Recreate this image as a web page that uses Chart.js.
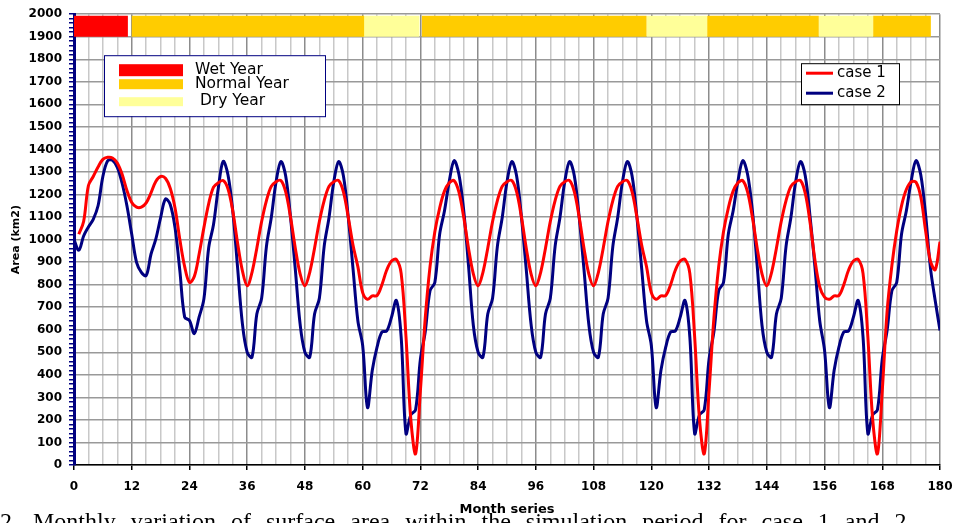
<!DOCTYPE html>
<html>
<head>
<meta charset="utf-8">
<script src="https://cdn.jsdelivr.net/npm/chart.js@4.4.0/dist/chart.umd.min.js"></script>
<style>
  html, body { margin: 0; padding: 0; background: #fff; overflow: hidden; }
  #wrap { position: relative; width: 957px; height: 523px; overflow: hidden; }
  #caption {
    position: absolute; left: 0; top: 509px;
    font-family: "Liberation Serif", "Times New Roman", serif;
    font-size: 24px; line-height: 24px; word-spacing: 9px;
    white-space: nowrap; color: #000;
  }
</style>
</head>
<body>
<div id="wrap">
  <canvas id="myChart" width="957" height="523"></canvas>
  <div id="caption">2. Monthly variation of surface area within the simulation period for case 1 and 2</div>
</div>
<script>
// month index 0..180
const months = Array.from({ length: 181 }, (_, i) => i);

// case 1 (red), km2, one row per year (month 0 has no point)
const case1 = [
  null, 1024, 1080, 1240, 1280, 1322, 1356, 1365, 1362, 1340, 1290, 1218,
  1165, 1144, 1144, 1163, 1207, 1258, 1280, 1272, 1228, 1140, 1000, 880,
  810, 836, 935, 1053, 1160, 1233, 1252, 1262, 1225, 1127, 985, 862,
  795, 855, 962, 1080, 1173, 1236, 1257, 1262, 1212, 1100, 962, 848,
  795, 855, 962, 1080, 1173, 1236, 1257, 1262, 1212, 1100, 975, 880,
  765, 735, 750, 752, 800, 865, 905, 912, 850, 570, 205, 50,
  330, 650, 880, 1035, 1140, 1215, 1252, 1262, 1212, 1100, 962, 848,
  795, 855, 962, 1080, 1173, 1236, 1257, 1262, 1212, 1100, 962, 848,
  795, 855, 962, 1080, 1173, 1236, 1257, 1262, 1212, 1100, 962, 848,
  795, 855, 962, 1080, 1173, 1236, 1257, 1262, 1212, 1100, 975, 880,
  765, 735, 750, 752, 800, 865, 905, 912, 850, 570, 205, 50,
  330, 650, 880, 1035, 1140, 1215, 1252, 1262, 1212, 1100, 962, 848,
  795, 855, 962, 1080, 1173, 1236, 1257, 1262, 1205, 1075, 910, 790,
  745, 735, 750, 752, 800, 865, 905, 912, 850, 570, 205, 50,
  330, 680, 885, 1038, 1150, 1222, 1256, 1255, 1190, 1040, 906, 866,
  990
];

// case 2 (navy)
const case2 = [
  1000, 953, 1016, 1056, 1090, 1150, 1280, 1350, 1352, 1320, 1250, 1150,
  1024, 899, 855, 840, 935, 1002, 1097, 1180, 1156, 1053, 862, 656,
  641, 583, 656, 737, 965, 1067, 1229, 1347, 1288, 1127, 877, 627,
  500, 478, 670, 740, 970, 1097, 1257, 1346, 1282, 1100, 868, 625,
  500, 478, 670, 740, 970, 1097, 1257, 1346, 1282, 1100, 870, 640,
  530, 255, 420, 524, 590, 595, 656, 730, 568, 140, 222, 245,
  470, 590, 773, 810, 1024, 1127, 1259, 1350, 1290, 1130, 885, 620,
  500, 478, 670, 740, 970, 1097, 1257, 1346, 1282, 1100, 868, 625,
  500, 478, 670, 740, 970, 1097, 1257, 1346, 1282, 1100, 868, 625,
  500, 478, 670, 740, 970, 1097, 1257, 1346, 1282, 1100, 870, 640,
  530, 255, 420, 524, 590, 595, 656, 730, 568, 140, 222, 245,
  470, 590, 773, 810, 1024, 1127, 1259, 1350, 1290, 1130, 885, 620,
  500, 478, 670, 740, 970, 1097, 1257, 1346, 1282, 1100, 880, 640,
  510, 255, 420, 524, 590, 595, 656, 730, 568, 140, 222, 245,
  470, 597, 773, 810, 1024, 1127, 1259, 1350, 1288, 1112, 877, 730,
  597
];

// year type strip along the top (start / end month)
const yearStart = [0, 12, 60, 72.3, 119, 131.6, 154.8, 166.1];
const yearEnd   = [11.2, 60.3, 71.8, 119, 131.6, 154.8, 166.1, 178.1];
const yearType  = ['Wet', 'Normal', 'Dry', 'Normal', 'Dry', 'Normal', 'Dry', 'Normal'];
const stripLevel = 1947;

const typeColours = { Wet: '#ff0000', Normal: '#ffcc00', Dry: '#ffff99' };
const typeLabels = ['Wet Year', 'Normal Year', ' Dry Year'];

let datasets = [
  {
    label: 'case 1',
    data: case1,
    borderColor: '#ff0000',
    borderWidth: 3,
    pointRadius: 0,
    tension: 0.35,
    spanGaps: true
  },
  {
    label: 'case 2',
    data: case2,
    borderColor: '#000080',
    borderWidth: 3,
    pointRadius: 0,
    tension: 0.35
  }
];

for (let i = 0; i < yearStart.length; i++) {
  datasets.push({
    label: yearType[i],
    data: [{ x: yearStart[i], y: stripLevel }, { x: yearEnd[i], y: stripLevel }],
    borderColor: typeColours[yearType[i]],
    borderWidth: 21,
    borderCapStyle: 'butt',
    pointRadius: 0,
    tension: 0
  });
}

// the two boxed legends drawn inside the plot
const boxLegends = {
  id: 'boxLegends',
  afterDraw(chart) {
    const ctx = chart.ctx;
    const a = chart.chartArea;
    ctx.save();

    // year type legend
    let bx = a.left + 30, by = a.top + 41;
    ctx.fillStyle = '#ffffff';
    ctx.fillRect(bx, by, 221, 61);
    ctx.strokeStyle = '#000080';
    ctx.lineWidth = 1;
    ctx.strokeRect(bx + 0.5, by + 0.5, 221, 61);
    const sw = [[9, 12], [24, 10], [42, 9]];
    const ty = [15, 28.5, 46];
    const cols = [typeColours.Wet, typeColours.Normal, typeColours.Dry];
    ctx.font = '15.5px "DejaVu Sans"';
    ctx.textBaseline = 'middle';
    ctx.textAlign = 'left';
    for (let i = 0; i < 3; i++) {
      ctx.fillStyle = cols[i];
      ctx.fillRect(bx + 15, by + sw[i][0], 64, sw[i][1]);
      ctx.fillStyle = '#000';
      ctx.fillText(typeLabels[i], bx + 91, by + ty[i]);
    }

    // case legend
    bx = a.right - 139; by = a.top + 49;
    ctx.fillStyle = '#ffffff';
    ctx.fillRect(bx, by, 98, 41);
    ctx.strokeStyle = '#000';
    ctx.strokeRect(bx + 0.5, by + 0.5, 98, 41);
    ctx.font = '15px "DejaVu Sans"';
    [['case 1', '#ff0000', 10], ['case 2', '#000080', 30]].forEach(function (c) {
      ctx.strokeStyle = c[1];
      ctx.lineWidth = 3;
      ctx.beginPath();
      ctx.moveTo(bx + 5, by + c[2]);
      ctx.lineTo(bx + 32, by + c[2]);
      ctx.stroke();
      ctx.fillStyle = '#000';
      ctx.fillText(c[0], bx + 36, by + c[2]);
    });
    ctx.restore();
  }
};

const tickFont = { family: 'DejaVu Sans', size: 12, weight: 'bold' };

let ctx0 = document.getElementById('myChart').getContext('2d');
let mychart = new Chart(ctx0, {
  type: 'line',
  data: { labels: months, datasets: datasets },
  options: {
    responsive: false,
    animation: false,
    devicePixelRatio: 1,
    layout: { padding: { top: 12, right: 17, left: 0, bottom: 0 } },
    plugins: { legend: { display: false }, tooltip: { enabled: false } },
    scales: {
      x: {
        type: 'linear',
        min: 0,
        max: 180,
        afterFit: function (s) { s.height = 58; s.paddingLeft = 0; s.paddingRight = 0; },
        ticks: {
          stepSize: 3,
          autoSkip: false,
          maxRotation: 0,
          padding: 10,
          color: '#000',
          font: tickFont,
          callback: function (v) { return v % 12 === 0 ? v : ''; }
        },
        grid: {
          color: function (c) { return c.tick && c.tick.value % 12 === 0 ? '#8c8c8c' : '#c8c8c8'; },
          lineWidth: 1.5,
          tickLength: 5,
          tickColor: function (c) { return c.tick && c.tick.value % 12 === 0 ? '#000' : 'rgba(0,0,0,0)'; }
        },
        border: { color: '#000', width: 1.5 },
        title: {
          display: true,
          text: 'Month series',
          color: '#000',
          font: { family: 'DejaVu Sans', size: 13, weight: 'bold' },
          padding: { top: 0, bottom: 6 }
        }
      },
      y: {
        min: 0,
        max: 2000,
        afterFit: function (s) { s.width = 74; },
        ticks: {
          stepSize: 20,
          autoSkip: false,
          padding: 7,
          color: '#000',
          font: tickFont,
          callback: function (v) { return v % 100 === 0 ? v : ''; }
        },
        grid: {
          color: function (c) { return c.tick && c.tick.value % 100 === 0 ? '#999999' : 'rgba(0,0,0,0)'; },
          lineWidth: 1.5,
          tickLength: 5,
          tickColor: '#000080'
        },
        border: { color: '#000080', width: 3 },
        title: {
          display: true,
          text: 'Area (km2)',
          color: '#000',
          font: { family: 'DejaVu Sans', size: 11, weight: 'bold' },
          padding: { top: 10, bottom: 0 }
        }
      }
    }
  },
  plugins: [boxLegends]
});
</script>
</body>
</html>
